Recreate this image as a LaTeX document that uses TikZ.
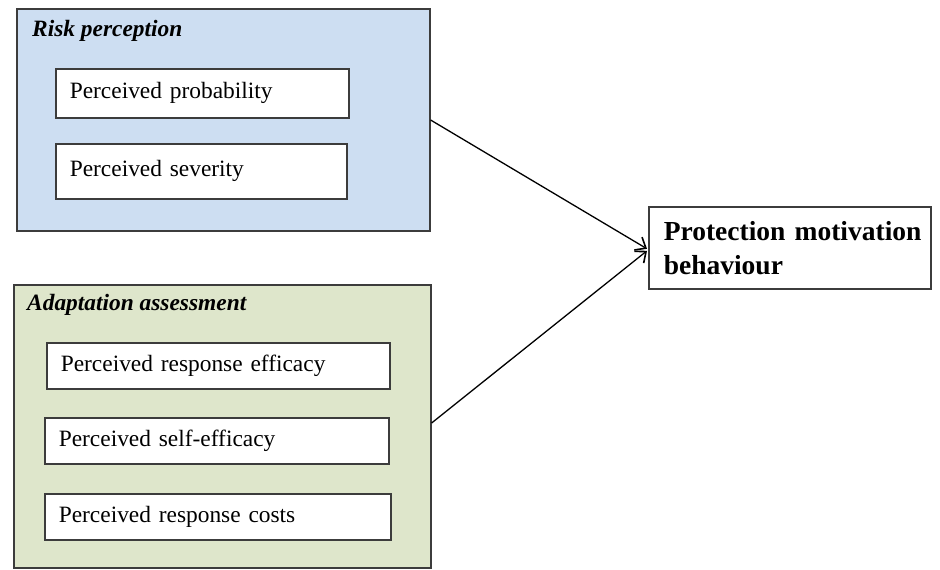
\documentclass[tikz,border=0pt]{standalone}
\usepackage{fontspec}
\setmainfont{Liberation Serif}
\usetikzlibrary{arrows.meta,calc}
\definecolor{riskblue}{RGB}{205,222,242}
\definecolor{adaptgreen}{RGB}{222,230,203}
\definecolor{edgegray}{RGB}{60,60,60}
\tikzset{
  groupbox/.style={draw=edgegray, line width=1.6pt, anchor=north west, inner sep=0pt},
  itembox/.style={draw=edgegray, line width=1.6pt, fill=white, anchor=north west,
    inner ysep=0pt, inner xsep=14pt,
    text width=#1, align=left, font=\fontsize{23.4}{28}\selectfont},
  grouptitle/.style={anchor=west, inner sep=0pt, font=\fontsize{23.4}{28}\selectfont\bfseries\itshape},
  conn/.style={line width=1.3pt, -{Straight Barb[length=9pt,width=15pt,line width=1.6pt]}}
}
\begin{document}
\begin{tikzpicture}[x=1pt,y=-1pt]
\useasboundingbox[fill=white] (0,0) rectangle (940,570);
% Risk perception group
\node (risk) [groupbox, fill=riskblue, minimum width=413pt, minimum height=222pt] at (16,8) {};
\node (risktitle) [grouptitle] at (32,31) {Risk perception};
\node (prob) [itembox=265pt, minimum width=293pt, minimum height=49pt] at (55,68) {Perceived probability\vphantom{p}};
\node (sev) [itembox=263pt, minimum width=291pt, minimum height=55pt] at (55,143) {Perceived severity\\[5pt]};
% Adaptation group
\node (adapt) [groupbox, fill=adaptgreen, minimum width=417pt, minimum height=283pt] at (13,284) {};
\node (adapttitle) [grouptitle] at (27,305) {Adaptation assessment};
\node (eff) [itembox=315pt, minimum width=343pt, minimum height=46pt] at (46,342) {Perceived response efficacy};
\node (self) [itembox=316pt, minimum width=344pt, minimum height=46pt] at (44,417) {Perceived self-efficacy};
\node (cost) [itembox=318pt, minimum width=346pt, minimum height=46pt] at (44,493) {Perceived response costs};
% Outcome
\node (prot) [draw=edgegray, line width=1.6pt, fill=white, anchor=north west,
  inner ysep=0pt, inner xsep=15pt,
  minimum width=282pt, minimum height=82pt, text width=252pt, align=left,
  font=\fontsize{27.5}{34}\selectfont\bfseries] at (648,206) {\mbox{Protection motivation}\\behaviour};
% Connectors
\coordinate (riskout) at ($(risk.north east)+(0,112)$);
\coordinate (adaptout) at ($(adapt.north east)+(0,139)$);
\draw[conn] (riskout) -- ($(prot.west)+(-1,1)$);
\draw[conn] (adaptout) -- ($(prot.west)+(-1,3)$);
\end{tikzpicture}
\end{document}
